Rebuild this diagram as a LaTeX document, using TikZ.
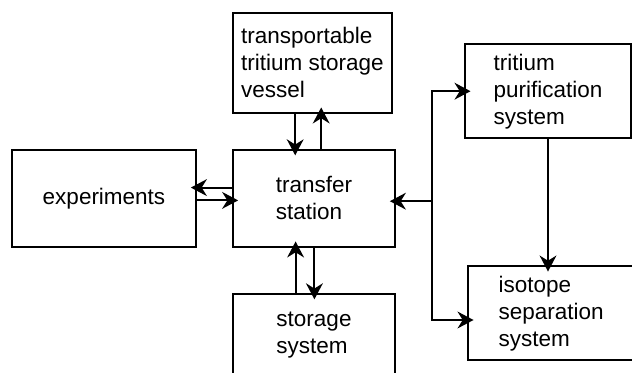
\documentclass[tikz,border=0pt]{standalone}
\usepackage{fontspec}
\setmainfont{Liberation Sans}
\usepackage{tikz}
\usetikzlibrary{arrows.meta,positioning}
\tikzset{
  blk/.style  ={draw, line width=1.5pt, inner sep=2pt, align=left,
                font=\fontsize{16}{19.2}\selectfont},
  flow/.style ={-{Stealth[length=4mm, width=4.2mm, inset=1.3mm]},
                line width=1.5pt, shorten >=-1.6mm},
}

\begin{document}
\begin{tikzpicture}
  \useasboundingbox (0,0) rectangle (15.8,-9.3);
  % boxes
  \node[blk, minimum width=3.98cm, minimum height=2.5cm] (tsv) at (7.81,-1.57)
    {transportable\\tritium storage\\vessel};
  \node[blk, minimum width=4.06cm, minimum height=2.42cm] (ts) at (7.85,-4.96)
    {transfer\\station};
  \node[blk, minimum width=4.61cm, minimum height=2.43cm] (exp) at (2.60,-4.97)
    {experiments};
  \node[blk, minimum width=4.06cm, minimum height=2.05cm] (ss) at (7.85,-8.375)
    {storage\\system};
  \node[blk, minimum width=4.14cm, minimum height=2.34cm] (tps) at (13.70,-2.28)
    {tritium\\purification\\system};
  \node[blk, minimum width=4.15cm, minimum height=2.35cm] (iss) at (13.78,-7.83)
    {isotope\\separation\\system};
  \coordinate (jn) at (10.79,-5.03);
  % vessel <-> transfer station
  \draw[flow] ([xshift=-4.3mm]tsv.south) -- ([xshift=-4.3mm]tsv.south |- ts.north);
  \draw[flow] ([xshift=2.2mm]tsv.south |- ts.north) -- ([xshift=2.2mm]tsv.south);
  % transfer station <-> storage
  \draw[flow] ([xshift=-4.6mm]ts.south |- ss.north) -- ([xshift=-4.6mm]ts.south);
  \draw[flow] ([xshift=0.1mm]ts.south) -- ([xshift=0.1mm]ts.south |- ss.north);
  % transfer station <-> experiments
  \draw[flow] ([yshift=2.7mm]ts.west) -- ([yshift=2.7mm]ts.west -| exp.east);
  \draw[flow] ([yshift=-0.4mm]exp.east) -- ([yshift=-0.4mm]exp.east -| ts.west);
  % right branch
  \draw[flow] (jn) -- (jn -| ts.east);
  \draw[flow] (jn) |- (tps.west);
  \draw[flow] (jn) |- ([yshift=-1.7mm]iss.west);
  \draw[flow] (tps.south) -- (tps.south |- iss.north);
\end{tikzpicture}
\end{document}
